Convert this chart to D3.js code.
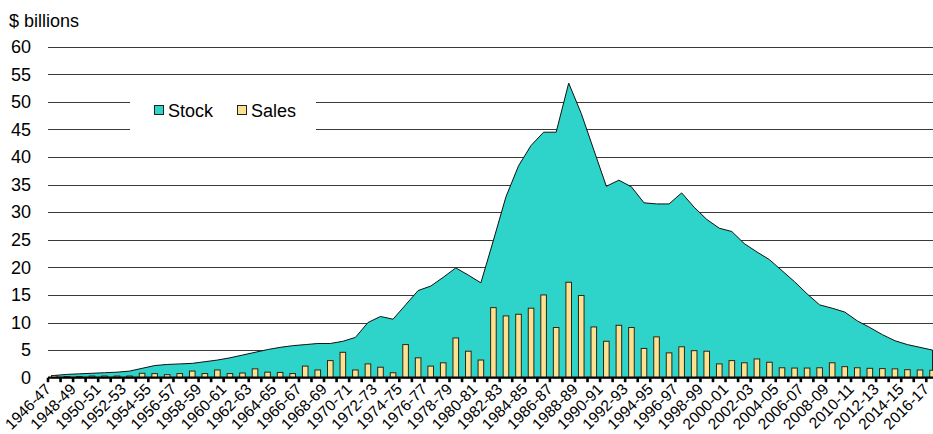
<!DOCTYPE html>
<html>
<head>
<meta charset="utf-8">
<script src="https://cdn.jsdelivr.net/npm/d3@7"></script>
<style>
  html, body { margin: 0; padding: 0; background: #fff; }
  svg { display: block; font-family: "Liberation Sans", Arial, sans-serif; }
</style>
</head>
<body>
<svg id="chart" width="933" height="434"></svg>
<script>
// Fiscal years
const categories = [
  "1946-47","1947-48","1948-49","1949-50","1950-51","1951-52","1952-53","1953-54","1954-55","1955-56",
  "1956-57","1957-58","1958-59","1959-60","1960-61","1961-62","1962-63","1963-64","1964-65","1965-66",
  "1966-67","1967-68","1968-69","1969-70","1970-71","1971-72","1972-73","1973-74","1974-75","1975-76",
  "1976-77","1977-78","1978-79","1979-80","1980-81","1981-82","1982-83","1983-84","1984-85","1985-86",
  "1986-87","1987-88","1988-89","1989-90","1990-91","1991-92","1992-93","1993-94","1994-95","1995-96",
  "1996-97","1997-98","1998-99","1999-00","2000-01","2001-02","2002-03","2003-04","2004-05","2005-06",
  "2006-07","2007-08","2008-09","2009-10","2010-11","2011-12","2012-13","2013-14","2014-15","2015-16",
  "2016-17"
];

// Outstanding stock, $ billions
const stock = [
  0.4, 0.6, 0.7, 0.8, 0.9, 1.0, 1.2, 1.7, 2.2, 2.4,
  2.5, 2.6, 2.9, 3.2, 3.6, 4.1, 4.6, 5.1, 5.5, 5.8,
  6.0, 6.2, 6.2, 6.6, 7.3, 10.0, 11.1, 10.6, 13.2, 15.8,
  16.6, 18.2, 19.9, 18.6, 17.2, 24.9, 32.8, 38.4, 42.1, 44.5,
  44.5, 53.4, 47.9, 41.3, 34.7, 35.8, 34.6, 31.7, 31.5, 31.5,
  33.5, 30.9, 28.7, 27.1, 26.5, 24.3, 22.8, 21.4, 19.4, 17.4,
  15.2, 13.2, 12.6, 11.9, 10.3, 9.1, 7.8, 6.7, 6.0, 5.5,
  5.0
];

// Annual sales, $ billions
const sales = [
  0.4, 0.2, 0.2, 0.3, 0.3, 0.3, 0.3, 0.8, 0.75, 0.55,
  0.75, 1.2, 0.75, 1.4, 0.75, 0.85, 1.6, 1.0, 0.95, 0.75,
  2.1, 1.4, 3.1, 4.6, 1.4, 2.5, 1.9, 0.9, 6.0, 3.6,
  2.1, 2.7, 7.2, 4.8, 3.2, 12.7, 11.2, 11.5, 12.6, 15.0,
  9.1, 17.3, 14.9, 9.2, 6.6, 9.5, 9.1, 5.3, 7.4, 4.5,
  5.6, 4.9, 4.8, 2.5, 3.1, 2.7, 3.4, 2.8, 1.8, 1.75,
  1.75, 1.8, 2.7, 2.0, 1.8, 1.7, 1.65, 1.6, 1.45, 1.4,
  1.35
];

const yTicks = [0, 5, 10, 15, 20, 25, 30, 35, 40, 45, 50, 55, 60];
const seriesNames = ["Stock", "Sales"];
const seriesColors = ["#2ed3ca", "#fbe190"];

const svg = d3.select("#chart");
const left = 48, step = 12.547;
const right = left + step * categories.length;
const y0 = 377.7, yTop = 46.7;

const x = d3.scaleBand().domain(categories).range([left, right]).padding(0);
const y = d3.scaleLinear().domain([0, 60]).range([y0, yTop]);
const cx = d => x(d) + x.bandwidth() / 2;

// Horizontal gridlines
svg.append("g").selectAll("line").data(yTicks.filter(t => t > 0)).join("line")
  .attr("x1", left).attr("x2", right)
  .attr("y1", d => Math.round(y(d)) + 0.5).attr("y2", d => Math.round(y(d)) + 0.5)
  .attr("stroke", "#3a3a3a").attr("stroke-width", 1);

// Y axis labels
const yAxis = d3.axisLeft(y).tickValues(yTicks).tickSize(0).tickPadding(0);
const ga = svg.append("g").attr("transform", "translate(31,0)").call(yAxis);
ga.select(".domain").remove();
ga.selectAll("text").attr("font-size", 18).attr("fill", "#000")
  .attr("font-family", "Liberation Sans, Arial, sans-serif");

// Unit label
svg.append("text").attr("x", 9).attr("y", 27).attr("font-size", 18).text("$ billions");

// Legend panel
svg.append("rect").attr("x", 130).attr("y", 82).attr("width", 186).attr("height", 56).attr("fill", "#fff");
const legendX = [154, 237];
seriesNames.forEach((name, i) => {
  svg.append("rect").attr("x", legendX[i] + 0.5).attr("y", 105.5).attr("width", 9).attr("height", 9)
    .attr("fill", seriesColors[i]).attr("stroke", "#222").attr("stroke-width", 1);
  svg.append("text").attr("x", legendX[i] + 14).attr("y", 116.5).attr("font-size", 18).text(name);
});

// Stock area
const area = d3.area()
  .x((d, i) => cx(categories[i]))
  .y0(y(0))
  .y1(d => y(d));
svg.append("path").datum(stock)
  .attr("d", area)
  .attr("fill", seriesColors[0]);
const line = d3.line().x((d, i) => cx(categories[i])).y(d => y(d));
svg.append("path").datum(stock)
  .attr("d", line)
  .attr("fill", "none").attr("stroke", "#111").attr("stroke-width", 1).attr("stroke-linejoin", "miter");
// right edge of the area
svg.append("line")
  .attr("x1", cx(categories[categories.length - 1])).attr("x2", cx(categories[categories.length - 1]))
  .attr("y1", y(stock[stock.length - 1])).attr("y2", y(0))
  .attr("stroke", "#111").attr("stroke-width", 1);

// Sales bars
const bw = 5.6;
svg.append("g").selectAll("rect").data(sales).join("rect")
  .attr("x", (d, i) => cx(categories[i]) - bw / 2)
  .attr("y", d => y(d))
  .attr("width", bw)
  .attr("height", d => y(0) - y(d))
  .attr("fill", seriesColors[1])
  .attr("stroke", "#2b2615").attr("stroke-width", 1);

// X axis line and tick marks
svg.append("line").attr("x1", left).attr("x2", right).attr("y1", y0).attr("y2", y0)
  .attr("stroke", "#000").attr("stroke-width", 2.2);
const boundaries = categories.map(c => x(c)).concat([right]);
svg.append("g").selectAll("rect").data(boundaries).join("rect")
  .attr("x", d => d - 1.3).attr("y", y0).attr("width", 2.6).attr("height", 4.5)
  .attr("fill", "#000");

// X axis labels, every other year
svg.append("g").selectAll("text")
  .data(categories.filter((c, i) => i % 2 === 0)).join("text")
  .attr("transform", d => `translate(${cx(d) - 2.5},${y0 + 12.5}) rotate(-45)`)
  .attr("text-anchor", "end")
  .attr("font-size", 15.5)
  .text(d => d);
</script>
</body>
</html>
